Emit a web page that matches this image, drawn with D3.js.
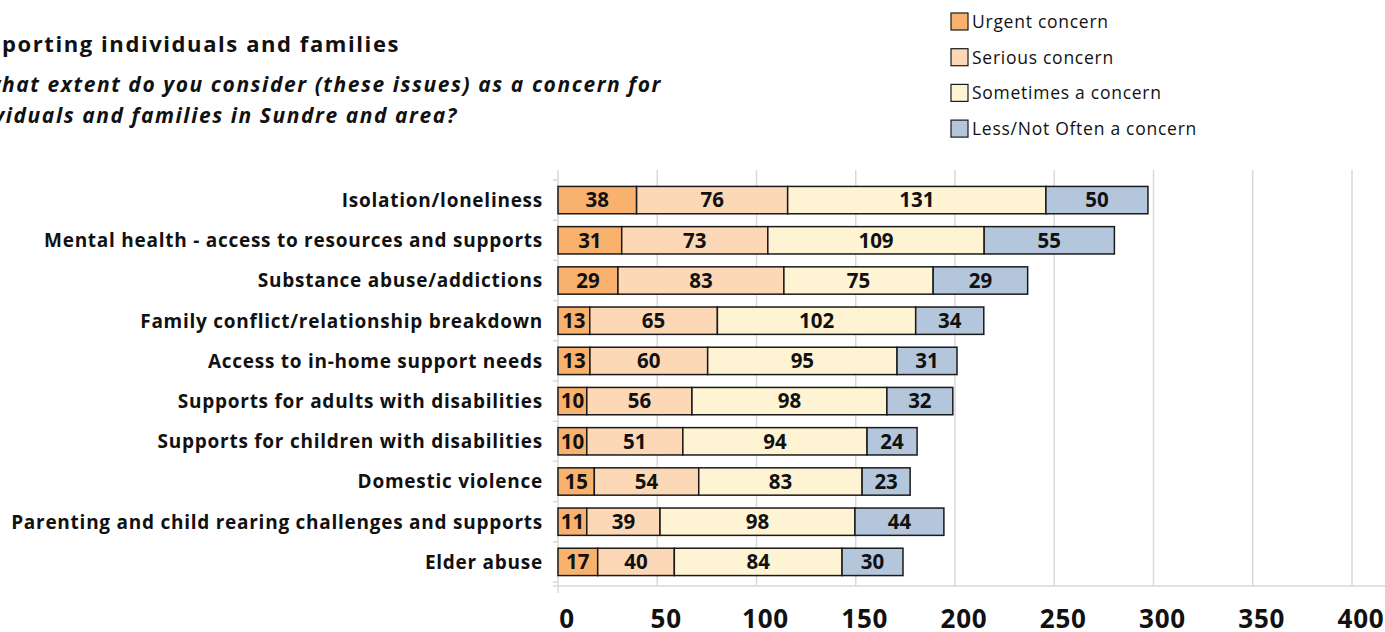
<!DOCTYPE html>
<html><head><meta charset="utf-8">
<script src="https://cdn.jsdelivr.net/npm/d3@7"></script>
<style>
html,body{margin:0;padding:0;background:#fff;}
svg{display:block;font-family:"Open Sans",Lato,sans-serif;}
</style></head>
<body>
<svg id="chart" width="1385" height="632"></svg>
<script>
const categories = [
  "Isolation/loneliness",
  "Mental health - access to resources and supports",
  "Substance abuse/addictions",
  "Family conflict/relationship breakdown",
  "Access to in-home support needs",
  "Supports for adults with disabilities",
  "Supports for children with disabilities",
  "Domestic violence",
  "Parenting and child rearing challenges and supports",
  "Elder abuse"
];
const seriesNames = ["Urgent concern","Serious concern","Sometimes a concern","Less/Not Often a concern"];
// values printed on the bars
const urgent    = [38,31,29,13,13,10,10,15,11,17];
const serious   = [76,73,83,65,60,56,51,54,39,40];
const sometimes = [131,109,75,102,95,98,94,83,98,84];
const lessOften = [50,55,29,34,31,32,24,23,44,30];
// segment lengths as drawn in the picture (the drawn bars do not always match the printed numbers)
const urgentBar    = [39.6,32.1,30.2,16.0,16.1,14.5,14.5,18.3,14.5,20.0];
const seriousBar   = [76.1,73.6,83.6,64.3,59.3,53.0,48.4,52.6,36.9,38.6];
const sometimesBar = [130.1,109.0,75.2,99.9,95.4,98.2,92.8,82.3,98.2,84.5];
const lessOftenBar = [51.4,65.6,47.6,34.3,30.2,33.2,25.2,24.2,44.8,30.7];
const xTicks = [0,50,100,150,200,250,300,350,400];
const colors = ["#F9B26E","#FCD8B6","#FEF3D2","#B3C6DB"];

const labelVals = [urgent, serious, sometimes, lessOften];
const barVals = [urgentBar, seriousBar, sometimesBar, lessOftenBar];
const rows = categories.map((c,i)=>{
  const o = {cat:c, idx:i};
  seriesNames.forEach((s,j)=>o[s]=barVals[j][i]);
  return o;
});
const stacked = d3.stack().keys(seriesNames)(rows);

const svg = d3.select("#chart");
const x = d3.scaleLinear().domain([0,400]).range([558,1352]);
const y = d3.scaleBand().domain(categories).range([180,582]).paddingInner(0.32).paddingOuter(0.16);

// fit letter-spacing so a sample string reaches a target width
function fitSpacing(sel, sample, target){
  const t = svg.append("text").attr("font-size",sel.attr("font-size"))
    .attr("font-weight",sel.attr("font-weight")).attr("font-style",sel.attr("font-style"))
    .text(sample);
  const w = t.node().getComputedTextLength();
  t.remove();
  const ls = (target - w) / sample.length;
  sel.attr("letter-spacing", ls);
}

// gridlines
svg.append("g").selectAll("line").data(xTicks.slice(1)).join("line")
  .attr("x1",d=>x(d)).attr("x2",d=>x(d)).attr("y1",170).attr("y2",586)
  .attr("stroke","#d9d9d9").attr("stroke-width",1.5);
svg.append("line").attr("x1",553).attr("x2",1385).attr("y1",586).attr("y2",586)
  .attr("stroke","#d9d9d9").attr("stroke-width",1.5);
svg.append("line").attr("x1",x(0)).attr("x2",x(0)).attr("y1",170).attr("y2",593)
  .attr("stroke","#d9d9d9").attr("stroke-width",1.5);
const step = y.step();
const bounds = d3.range(categories.length+1).map(i=>y.range()[0]+i*step);
svg.append("g").selectAll("line").data(bounds).join("line")
  .attr("x1",x(0)-5).attr("x2",x(0)).attr("y1",d=>d).attr("y2",d=>d)
  .attr("stroke","#d9d9d9").attr("stroke-width",1.5);

// bars
const layer = svg.append("g").selectAll("g").data(stacked).join("g")
  .attr("fill",(d,i)=>colors[i]);
layer.selectAll("rect").data(d=>d.map(v=>({v,cat:v.data.cat}))).join("rect")
  .attr("x",d=>x(d.v[0])).attr("width",d=>x(d.v[1])-x(d.v[0]))
  .attr("y",d=>y(d.cat)).attr("height",y.bandwidth())
  .attr("stroke","#1a1a1a").attr("stroke-width",1.5);
layer.selectAll("text").data((d,j)=>d.map(v=>({v,cat:v.data.cat,lab:labelVals[j][v.data.idx]}))).join("text")
  .attr("x",d=>(x(d.v[0])+x(d.v[1]))/2).attr("y",d=>y(d.cat)+y.bandwidth()/2)
  .attr("dy","0.36em").attr("text-anchor","middle")
  .attr("font-size",20.5).attr("font-weight",700).attr("fill","#111")
  .text(d=>d.lab);

// category labels
const catText = svg.append("g").selectAll("text").data(categories).join("text")
  .attr("x",543).attr("y",d=>y(d)+y.bandwidth()/2).attr("dy","0.36em")
  .attr("text-anchor","end").attr("font-size",19).attr("font-weight",700).attr("fill","#111")
  .text(d=>d);
fitSpacing(catText, categories[1], 499);

// x tick labels
const tickText = svg.append("g").selectAll("text").data(xTicks).join("text")
  .attr("x",d=>x(d)+9).attr("y",619).attr("dy","0.36em").attr("text-anchor","middle")
  .attr("font-size",26).attr("font-weight",700).attr("fill","#111")
  .text(d=>d);
fitSpacing(tickText, "400", 47);

// title & subtitle
const t1 = svg.append("text").attr("x",400).attr("y",52).attr("text-anchor","end")
  .attr("font-size",22).attr("font-weight",700).attr("fill","#111")
  .text("Supporting individuals and families");
fitSpacing(t1, "porting individuals and families", 398);
const s1 = svg.append("text").attr("x",662).attr("y",92).attr("text-anchor","end")
  .attr("font-size",21).attr("font-weight",700).attr("font-style","italic").attr("fill","#111")
  .text("To what extent do you consider (these issues) as a concern for");
fitSpacing(s1, "hat extent do you consider (these issues) as a concern for", 660);
const s2 = svg.append("text").attr("x",458).attr("y",123).attr("text-anchor","end")
  .attr("font-size",21).attr("font-weight",700).attr("font-style","italic").attr("fill","#111")
  .text("individuals and families in Sundre and area?");
s2.attr("letter-spacing", s1.attr("letter-spacing"));

// legend
const lg = svg.append("g").selectAll("g").data(seriesNames).join("g")
  .attr("transform",(d,i)=>`translate(951,${13+i*35.7})`);
lg.append("rect").attr("width",17).attr("height",17).attr("fill",(d,i)=>colors[i])
  .attr("stroke","#1a1a1a").attr("stroke-width",1.2);
const lgText = lg.append("text").attr("x",21).attr("y",8.5).attr("dy","0.36em")
  .attr("font-size",17.5).attr("font-weight",400).attr("fill","#111").text(d=>d);
fitSpacing(lgText, seriesNames[3], 225);
</script>
</body></html>
